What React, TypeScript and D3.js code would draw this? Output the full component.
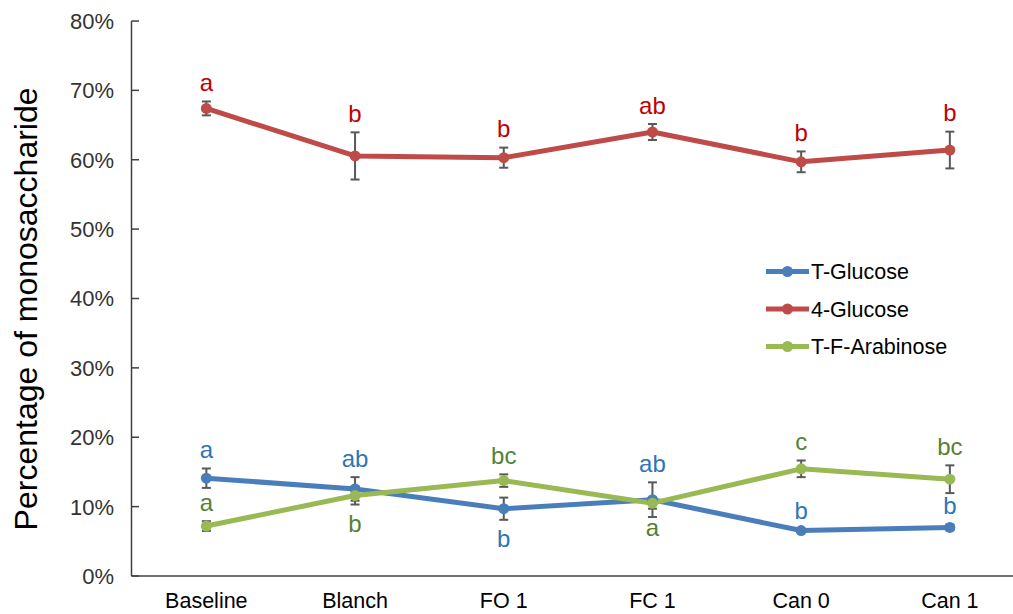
import React from "react";
import * as d3 from "d3";

// categories and series (percent values)
const categories = ["Baseline", "Blanch", "FO 1", "FC 1", "Can 0", "Can 1"];
const yTicks = [0, 10, 20, 30, 40, 50, 60, 70, 80];

const tGlucose = [14.1, 12.55, 9.7, 11.0, 6.55, 7.0];
const tGlucoseErr = [1.4, 1.7, 1.6, 2.5, 0.2, 0.4];
const tGlucoseLetters = ["a", "ab", "b", "ab", "b", "b"];
const tGlucoseSide = ["up", "up", "down", "up", "up", "up"];

const fourGlucose = [67.4, 60.55, 60.3, 64.0, 59.7, 61.4];
const fourGlucoseErr = [1.0, 3.4, 1.45, 1.15, 1.5, 2.65];
const fourGlucoseLetters = ["a", "b", "b", "ab", "b", "b"];
const fourGlucoseSide = ["up", "up", "up", "up", "up", "up"];

const tfArabinose = [7.2, 11.6, 13.75, 10.5, 15.45, 13.95];
const tfArabinoseErr = [0.7, 1.3, 0.9, 0.8, 1.2, 2.0];
const tfArabinoseLetters = ["a", "b", "bc", "a", "c", "bc"];
const tfArabinoseSide = ["up", "down", "up", "down", "up", "up"];

const series = [
  { name: "T-Glucose", values: tGlucose, err: tGlucoseErr, letters: tGlucoseLetters, side: tGlucoseSide, color: "#4a7ebb", letterColor: "#2e75b6" },
  { name: "4-Glucose", values: fourGlucose, err: fourGlucoseErr, letters: fourGlucoseLetters, side: fourGlucoseSide, color: "#be4b48", letterColor: "#c00000" },
  { name: "T-F-Arabinose", values: tfArabinose, err: tfArabinoseErr, letters: tfArabinoseLetters, side: tfArabinoseSide, color: "#98b954", letterColor: "#548235" },
];

const W = 1013;
const H = 614;
const font = "'Liberation Sans', Arial, sans-serif";

const App = () => {
  const x = d3.scaleBand<string>().domain(categories).range([132, 132 + 6 * 148.7]);
  const y = d3.scaleLinear().domain([0, 80]).range([576, 21]);
  const cx = (c: string) => (x(c) as number) + x.bandwidth() / 2;

  const line = d3
    .line<number>()
    .x((_, i) => cx(categories[i]))
    .y((d) => y(d));

  return (
    <svg width={W} height={H} style={{ position: "absolute", left: 0, top: 0, background: "#fff" }} fontFamily={font}>
      {/* axes */}
      <line x1={131.5} x2={131.5} y1={y(80)} y2={y(0)} stroke="#404040" strokeWidth={1.5} />
      <line x1={131.5} x2={W + 20} y1={y(0)} y2={y(0)} stroke="#404040" strokeWidth={1.5} />
      {yTicks.map((t) => (
        <g key={t}>
          <line x1={131.5} x2={139} y1={y(t)} y2={y(t)} stroke="#404040" strokeWidth={1.5} />
          <text x={114} y={y(t)} dy="0.36em" textAnchor="end" fontSize={22} fill="#333">
            {t}%
          </text>
        </g>
      ))}
      <text
        transform={`translate(37,${y(38.5)}) rotate(-90)`}
        textAnchor="middle"
        fontSize={32}
        fill="#000"
      >
        Percentage of monosaccharide
      </text>

      {/* x labels */}
      {categories.map((c) => (
        <text key={c} x={cx(c)} y={608} textAnchor="middle" fontSize={21.5} fill="#000">
          {c}
        </text>
      ))}

      {/* lines */}
      {series.map((s) => (
        <path key={s.name} d={line(s.values) || ""} fill="none" stroke={s.color} strokeWidth={5} strokeLinejoin="round" />
      ))}

      {/* error bars */}
      {series.map((s) =>
        s.values.map((v, i) => {
          const px = cx(categories[i]);
          const top = y(v + s.err[i]);
          const bot = y(v - s.err[i]);
          return (
            <g key={s.name + i} stroke="#595959" strokeWidth={2}>
              <line x1={px} x2={px} y1={top} y2={bot} />
              <line x1={px - 4.5} x2={px + 4.5} y1={top} y2={top} />
              <line x1={px - 4.5} x2={px + 4.5} y1={bot} y2={bot} />
            </g>
          );
        })
      )}

      {/* markers */}
      {series.map((s) =>
        s.values.map((v, i) => (
          <circle key={s.name + "m" + i} cx={cx(categories[i])} cy={y(v)} r={5.5} fill={s.color} />
        ))
      )}

      {/* significance letters */}
      {series.map((s) =>
        s.letters.map((l, i) => {
          const up = s.side[i] === "up";
          const end = up ? y(s.values[i] + s.err[i]) : y(s.values[i] - s.err[i]);
          return (
            <text
              key={s.name + "l" + i}
              x={cx(categories[i])}
              y={up ? end - 19 : end + 19}
              dy="0.36em"
              textAnchor="middle"
              fontSize={24}
              fill={s.letterColor}
            >
              {l}
            </text>
          );
        })
      )}

      {/* legend */}
      {series.map((s, i) => {
        const ly = 271.5 + i * 37.5;
        return (
          <g key={s.name + "lg"}>
            <line x1={766} x2={809} y1={ly} y2={ly} stroke={s.color} strokeWidth={5} />
            <circle cx={787.5} cy={ly} r={5.5} fill={s.color} />
            <text x={811} y={ly} dy="0.36em" fontSize={21.5} fill="#000">
              {s.name}
            </text>
          </g>
        );
      })}
    </svg>
  );
};

export default App;
